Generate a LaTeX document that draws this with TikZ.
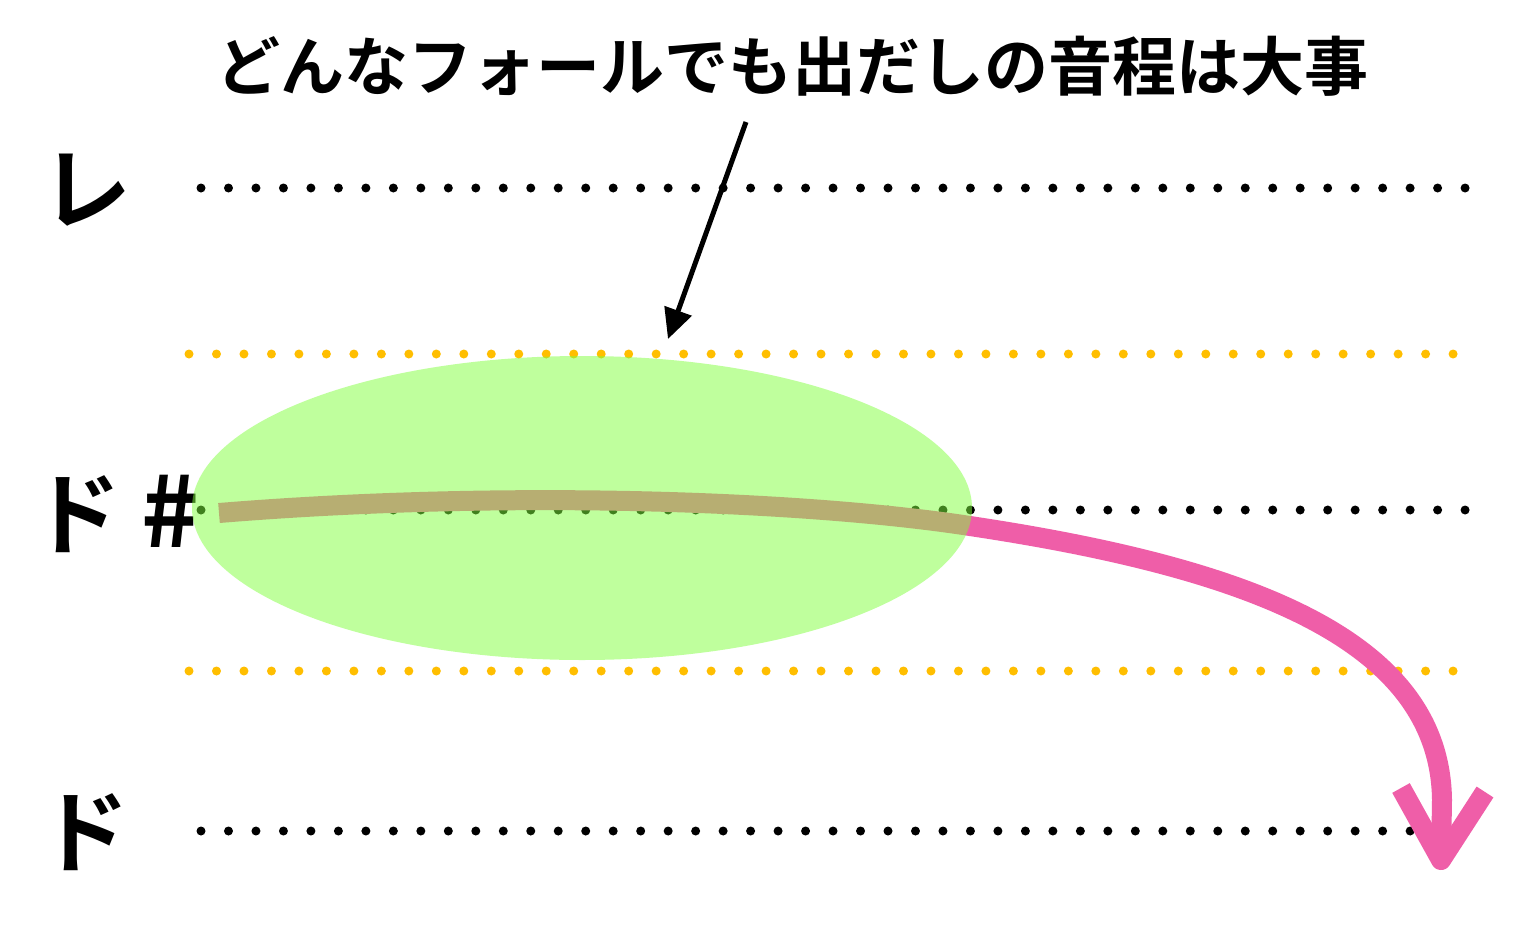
\documentclass[tikz,border=0pt]{standalone}
\usepackage{fontspec}
\newfontfamily\jp{Noto Sans CJK JP}[BoldFont={Noto Sans CJK JP Bold}]
\usetikzlibrary{arrows.meta}
\definecolor{dotorange}{RGB}{255,190,0}
\definecolor{pinkline}{RGB}{239,94,168}
\definecolor{ellgreen}{RGB}{129,255,61}
\tikzset{
  blackdot/.style={fill=black},
  orangedot/.style={fill=dotorange},
  bigtitle/.style={font=\jp\bfseries\fontsize{64pt}{64pt}\selectfont, inner sep=0pt},
  notelabel/.style={font=\jp\bfseries\fontsize{90pt}{90pt}\selectfont, inner sep=0pt},
  pinkcurve/.style={draw=pinkline, line width=20pt, line cap=butt},
  chevron/.style={draw=pinkline, line width=20pt, line join=round, line cap=butt},
}
\begin{document}
\begin{tikzpicture}[x=1pt,y=-1pt]
\path[use as bounding box, fill=white] (0,0) rectangle (1520,934);
% dotted rows
\foreach \yy in {188,510,831}{
  \foreach \i in {0,...,46}{
    \fill[blackdot] ({201+\i*27.48},\yy) circle (4.5pt);
  }
}
\foreach \yy in {354,671}{
  \foreach \i in {0,...,46}{
    \fill[orangedot] ({189+\i*27.48},\yy) circle (4.5pt);
  }
}
% labels
\node[bigtitle] (title) at (792,66) {どんなフォールでも出だしの音程は大事};
\node[notelabel] (re) at (86,190) {レ};
\node[notelabel, anchor=west] (dosharp) at (31,514) {ド {\fontsize{98pt}{98pt}\selectfont\#}};
\node[notelabel] (do) at (84,832) {ド};
% pink fall curve
\coordinate (fstart) at (219,513);
\coordinate (fmid) at (970,526);
\coordinate (fbend) at (1442,800);
\coordinate (fend) at (1441,860);
\draw[pinkcurve] (fstart) .. controls (500,490) and (800,500) .. (fmid)
  .. controls (1250,568) and (1440,640) .. (fbend) -- (fend);
\coordinate (armL) at (1401,788);
\coordinate (armR) at (1485,792);
\draw[chevron] (armL) -- (fend) -- (armR);
% green ellipse
\fill[ellgreen, opacity=0.5] (582,508) ellipse (390pt and 152pt) coordinate (ell);
% black pointer arrow
\coordinate (pfrom) at (746,122);
\coordinate (pto) at (668,339);
\draw[line width=5pt, -{Triangle[length=30pt,width=28pt]}] (pfrom) -- (pto);
\end{tikzpicture}
\end{document}
